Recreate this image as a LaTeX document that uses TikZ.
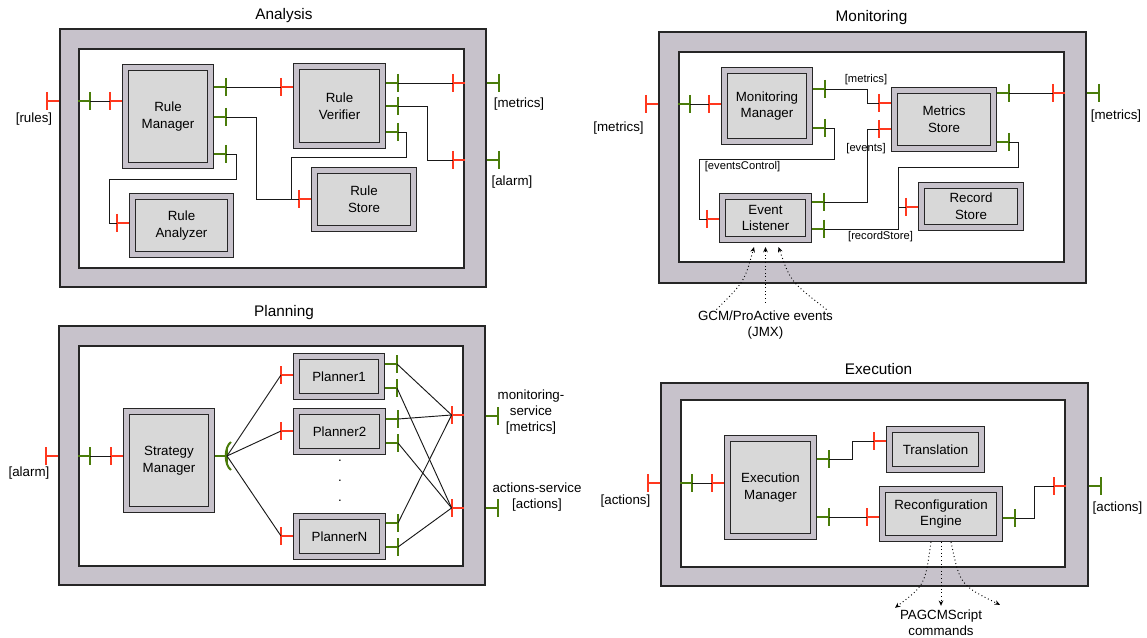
\documentclass[tikz,border=0pt]{standalone}
\usepackage{fontspec}
\setmainfont{Liberation Sans}
\usetikzlibrary{arrows.meta}
\definecolor{memgray}{RGB}{199,194,203}
\definecolor{compfill}{RGB}{216,216,216}
\definecolor{portred}{RGB}{255,56,30}
\definecolor{portgreen}{RGB}{74,124,10}
\newcommand\iport[4]{\draw[#1] (#2) -- ++(#3*12,0) coordinate (#4) ++(0,-9) -- ++(0,18);}

\begin{document}
\begin{tikzpicture}[x=0.75pt,y=-0.75pt]
  \tikzset{
    membrane/.style 2 args={draw=black!85,line width=0.9pt,fill=memgray,inner sep=0pt,minimum width=#1*0.75pt,minimum height=#2*0.75pt},
    memin/.style 2 args={draw=black!85,line width=0.9pt,fill=white,inner sep=0pt,minimum width=#1*0.75pt,minimum height=#2*0.75pt},
    comp/.style 2 args={draw=black!85,line width=0.8pt,double=memgray,double distance=3.8pt,fill=compfill,inner sep=0pt,outer sep=2.7pt,minimum width=#1*0.75pt-5.4pt,minimum height=#2*0.75pt-5.4pt,align=center,font=\fontsize{10}{12.5}\selectfont},
    redport/.style={draw=portred,line width=1.5pt},
    grnport/.style={draw=portgreen,line width=1.5pt},
    wire/.style={draw=black!90,line width=0.7pt},
    plabel/.style={inner sep=0pt,align=center,font=\fontsize{10}{12}\selectfont},
    slabel/.style={inner sep=0pt,font=\fontsize{8.4}{10}\selectfont},
    ttl/.style={inner sep=0pt,font=\fontsize{11.5}{14}\selectfont},
    evarrow/.style={dotted,line width=0.7pt,-{Stealth[length=4pt,width=3.5pt]}}
  }
  \useasboundingbox (0,0) rectangle (1147,638);

  \node[membrane={426}{258}] (ana) at (273,158) {};
  \node[memin={385}{219}] (ana-in) at (271.5,158.5) {};
  \node[ttl] (ana-t) at (284,16) {Analysis};
  \node[comp={92}{105}] (rm) at (168,116.5) {Rule\\Manager};
  \node[comp={105}{65}] (ra) at (181.5,225.5) {Rule\\Analyzer};
  \node[comp={93}{86}] (rv) at (339.5,106) {Rule\\Verifier};
  \node[comp={106}{65}] (rs) at (364,199.5) {Rule\\Store};
  \iport{redport}{ana.west |- 0,101}{-1}{ana-i}
  \iport{grnport}{ana-in.west |- 0,101}{1}{ana-g}
  \iport{redport}{rm.west |- 0,101}{-1}{rm-i}
  \iport{grnport}{rm.east |- 0,87}{1}{rm-o1}
  \iport{grnport}{rm.east |- 0,117}{1}{rm-o2}
  \iport{grnport}{rm.east |- 0,154}{1}{rm-o3}
  \iport{redport}{rv.west |- 0,87}{-1}{rv-i}
  \iport{redport}{rs.west |- 0,199}{-1}{rs-i}
  \iport{redport}{ra.west |- 0,223}{-1}{ra-i}
  \iport{grnport}{rv.east |- 0,83}{1}{rv-o1}
  \iport{grnport}{rv.east |- 0,106}{1}{rv-o2}
  \iport{grnport}{rv.east |- 0,132}{1}{rv-o3}
  \iport{redport}{ana-in.east |- 0,83}{-1}{ana-r1}
  \iport{redport}{ana-in.east |- 0,160}{-1}{ana-r2}
  \iport{grnport}{ana.east |- 0,83}{1}{ana-o1}
  \iport{grnport}{ana.east |- 0,160}{1}{ana-o2}
  \draw[wire] (ana-g) -- (rm-i);
  \draw[wire] (rm-o1) -- (rv-i);
  \draw[wire] (rm-o2) -- ++(30,0) |- (rs-i);
  \draw[wire] (rm-o3) -- ++(10,0) |- (109,179) |- (ra-i);
  \draw[wire] (rv-o1) -- (ana-r1);
  \draw[wire] (rv-o2) -- ++(29,0) |- (ana-r2);
  \draw[wire] (rv-o3) -- ++(8,0) |- (291,157) |- (rs-i);
  \node[plabel] (l-rules) at (34,119) {[rules]};
  \node[plabel] (l-ametrics) at (519,104) {[metrics]};
  \node[plabel] (l-aalarm) at (512,182) {[alarm]};

  \node[membrane={427}{251}] (mon) at (872.5,157.5) {};
  \node[memin={385}{210}] (mon-in) at (871.5,157) {};
  \node[ttl] (mon-t) at (871.5,18) {Monitoring};
  \node[comp={92}{78}] (mm) at (767,106) {Monitoring\\Manager};
  \node[comp={93}{50}] (el) at (765.5,218) {Event\\Listener};
  \node[comp={106}{65}] (ms) at (944,119.5) {Metrics\\Store};
  \node[comp={106}{49}] (rst) at (971,206.5) {Record\\Store};
  \iport{redport}{mon.west |- 0,104}{-1}{mon-i}
  \iport{grnport}{mon-in.west |- 0,104}{1}{mon-g}
  \iport{redport}{mm.west |- 0,104}{-1}{mm-i}
  \iport{grnport}{mm.east |- 0,89}{1}{mm-o1}
  \iport{grnport}{mm.east |- 0,128}{1}{mm-o2}
  \iport{redport}{el.west |- 0,219}{-1}{el-i}
  \iport{grnport}{el.east |- 0,202}{1}{el-o1}
  \iport{grnport}{el.east |- 0,229}{1}{el-o2}
  \iport{redport}{ms.west |- 0,103}{-1}{ms-i1}
  \iport{redport}{ms.west |- 0,129}{-1}{ms-i2}
  \iport{grnport}{ms.east |- 0,93}{1}{ms-o1}
  \iport{grnport}{ms.east |- 0,142}{1}{ms-o2}
  \iport{redport}{rst.west |- 0,207}{-1}{rst-i}
  \iport{redport}{mon-in.east |- 0,93}{-1}{mon-r}
  \iport{grnport}{mon.east |- 0,93}{1}{mon-o}
  \draw[wire] (mon-g) -- (mm-i);
  \draw[wire] (mm-o1) -- ++(42,0) |- (ms-i1);
  \draw[wire] (mm-o2) -- ++(9,0) |- (699,159) |- (el-i);
  \draw[wire] (el-o1) -- ++(43,0) |- (ms-i2);
  \draw[wire] (el-o2) -- ++(74,0) |- (rst-i);
  \draw[wire] (ms-o2) -- ++(9,0) |- (898,167) |- (rst-i);
  \draw[wire] (ms-o1) -- (mon-r);
  \node[slabel] (l-mm1) at (866,80) {[metrics]};
  \node[slabel] (l-ev) at (866,148.5) {[events]};
  \node[slabel] (l-evc) at (742.5,167) {[eventsControl]};
  \node[slabel] (l-rec) at (880.5,236.5) {[recordStore]};
  \node[plabel] (l-mmetrics) at (618.5,128) {[metrics]};
  \node[plabel] (l-mmetrics2) at (1116,116) {[metrics]};
  \node[plabel] (gcm) at (765.5,325) {GCM/ProActive events\\(JMX)};
  \draw[evarrow] ([shift={(-49,-1)}]gcm.north) .. controls ([shift={(-21,-29)}]gcm.north) .. ([shift={(-11.5,4)}]el.south);
  \draw[evarrow] ([shift={(0,-8)}]gcm.north) -- ([shift={(0,4)}]el.south);
  \draw[evarrow] ([shift={(61,-1)}]gcm.north) .. controls ([shift={(25,-29)}]gcm.north) .. ([shift={(13,4)}]el.south);

  \node[membrane={426}{259}] (pla) at (272,455.5) {};
  \node[memin={384}{220}] (pla-in) at (271,456) {};
  \node[ttl] (pla-t) at (284,312.5) {Planning};
  \node[comp={92}{105}] (sm) at (169,460.5) {Strategy\\Manager};
  \node[comp={92}{47}] (pl1) at (339,376.5) {Planner1};
  \node[comp={93}{47}] (pl2) at (339.5,431.5) {Planner2};
  \node[comp={93}{47}] (pln) at (339.5,536.5) {PlannerN};
  \foreach \y in {461,481,501}
    \node[inner sep=0pt] (dot\y) at (340,\y) {.};
  \iport{redport}{pla.west |- 0,456}{-1}{pla-i}
  \iport{grnport}{pla-in.west |- 0,456}{1}{pla-g}
  \iport{redport}{sm.west |- 0,456}{-1}{sm-i}
  \iport{grnport}{sm.east |- 0,456}{1}{sm-o}
  \draw[grnport] ([shift={(4,-14)}]sm-o) .. controls ([shift={(-3,-9)}]sm-o) and ([shift={(-3,9)}]sm-o) .. ([shift={(4,14)}]sm-o);
  \iport{redport}{pl1.west |- 0,375}{-1}{pl1-i}
  \iport{redport}{pl2.west |- 0,431}{-1}{pl2-i}
  \iport{redport}{pln.west |- 0,536}{-1}{pln-i}
  \iport{grnport}{pl1.east |- 0,364}{1}{pl1-o1}
  \iport{grnport}{pl1.east |- 0,388}{1}{pl1-o2}
  \iport{grnport}{pl2.east |- 0,419}{1}{pl2-o1}
  \iport{grnport}{pl2.east |- 0,443}{1}{pl2-o2}
  \iport{grnport}{pln.east |- 0,523}{1}{pln-o1}
  \iport{grnport}{pln.east |- 0,547}{1}{pln-o2}
  \iport{redport}{pla-in.east |- 0,415}{-1}{pla-r1}
  \iport{redport}{pla-in.east |- 0,508}{-1}{pla-r2}
  \iport{grnport}{pla.east |- 0,416}{1}{pla-o1}
  \iport{grnport}{pla.east |- 0,508}{1}{pla-o2}
  \draw[wire] (pla-g) -- (sm-i);
  \foreach \p in {pl1,pl2,pln} {
    \draw[wire] (sm-o) -- (\p-i);
    \draw[wire] (\p-o1) -- (pla-r1);
    \draw[wire] (\p-o2) -- (pla-r2);
  }
  \node[plabel] (l-palarm) at (29,473) {[alarm]};
  \node[plabel] (l-pmon) at (531,412) {monitoring-\\service\\{[metrics]}};
  \node[plabel] (l-pact) at (537,497) {actions-service\\{[actions]}};

  \node[membrane={427}{203}] (exe) at (874.5,484.5) {};
  \node[memin={384}{167}] (exe-in) at (873,483.5) {};
  \node[ttl] (exe-t) at (878.5,369) {Execution};
  \node[comp={93}{105}] (em) at (770.5,487.5) {Execution\\Manager};
  \node[comp={99}{47}] (tr) at (935.5,449.5) {Translation};
  \node[comp={124}{56}] (re) at (941,514) {Reconfiguration\\Engine};
  \iport{redport}{exe.west |- 0,483}{-1}{exe-i}
  \iport{grnport}{exe-in.west |- 0,483}{1}{exe-g}
  \iport{redport}{em.west |- 0,483}{-1}{em-i}
  \iport{grnport}{em.east |- 0,459}{1}{em-o1}
  \iport{grnport}{em.east |- 0,517}{1}{em-o2}
  \iport{redport}{tr.west |- 0,441}{-1}{tr-i}
  \iport{redport}{re.west |- 0,517}{-1}{re-i}
  \iport{grnport}{re.east |- 0,518}{1}{re-o}
  \iport{redport}{exe-in.east |- 0,486}{-1}{exe-r}
  \iport{grnport}{exe.east |- 0,486}{1}{exe-o}
  \draw[wire] (exe-g) -- (em-i);
  \draw[wire] (em-o1) -- ++(23,0) |- (tr-i);
  \draw[wire] (em-o2) -- (re-i);
  \draw[wire] (re-o) -- ++(19,0) |- (exe-r);
  \node[plabel] (l-eact) at (625.5,501) {[actions]};
  \node[plabel] (l-eact2) at (1117.5,508) {[actions]};
  \node[plabel] (pag) at (941,623) {PAGCMScript\\commands};
  \draw[evarrow] ([shift={(-10,0)}]re.south) .. controls ([shift={(-16,43)}]re.south) .. ([shift={(-46,-2)}]pag.north);
  \draw[evarrow] (re.south) -- ([shift={(0,-4)}]pag.north);
  \draw[evarrow] ([shift={(10,0)}]re.south) .. controls ([shift={(19,43)}]re.south) .. ([shift={(59,-5)}]pag.north);
\end{tikzpicture}
\end{document}
